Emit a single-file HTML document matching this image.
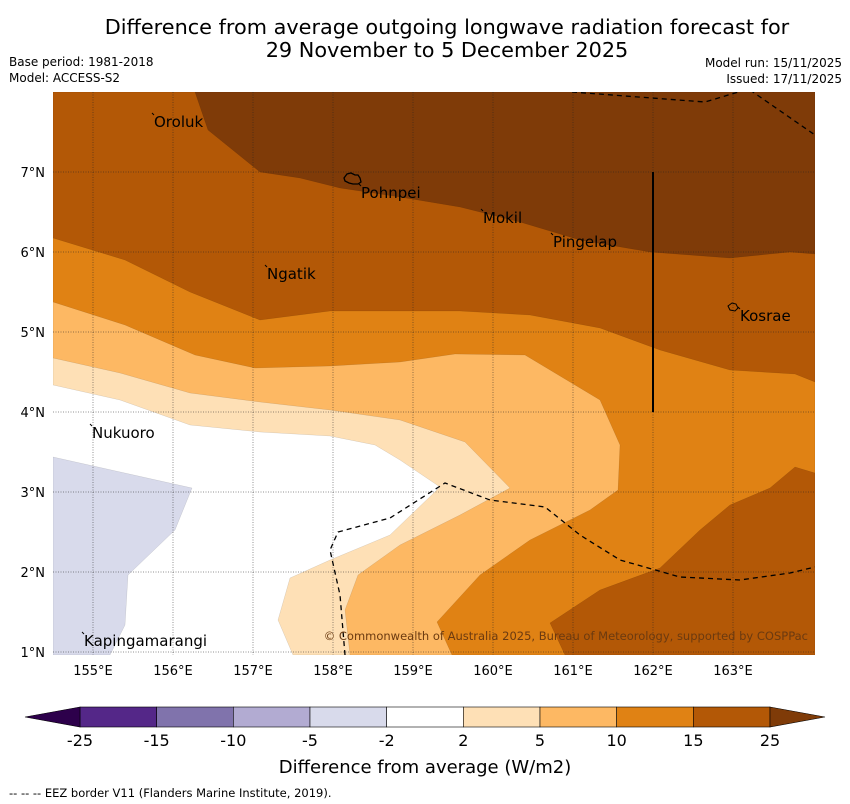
<!DOCTYPE html>
<html><head><meta charset="utf-8"><style>
body{margin:0;background:#fff;width:850px;height:804px;overflow:hidden;font-family:"DejaVu Sans","Liberation Sans",sans-serif}
svg{position:absolute;left:0;top:0}
</style></head><body>
<svg id="s" width="850" height="804">
<text x="447" y="34" font-size="20.8" text-anchor="middle">Difference from average outgoing longwave radiation forecast for</text>
<text x="447" y="57" font-size="20.8" text-anchor="middle">29 November to 5 December 2025</text>
<text x="9" y="66" font-size="12">Base period: 1981-2018</text>
<text x="9" y="82" font-size="12">Model: ACCESS-S2</text>
<text x="842" y="67" font-size="12" text-anchor="end">Model run: 15/11/2025</text>
<text x="842" y="83" font-size="12" text-anchor="end">Issued: 17/11/2025</text>
<g id="map"></g>
<g id="cbar"></g>
<text x="425" y="773" font-size="18" text-anchor="middle">Difference from average (W/m2)</text>
<text x="9" y="797" font-size="11.5">--  --  -- EEZ border V11 (Flanders Marine Institute, 2019).</text>
</svg>
<script>
const lonTicks=[155,156,157,158,159,160,161,162,163];
const latTicks=[1,2,3,4,5,6,7];
const levels=[-25,-15,-10,-5,-2,2,5,10,15,25];
const colors=["#542788","#8073ac","#b2abd2","#d8daeb","#ffffff","#fee0b6","#fdb863","#e08214","#b35806"];
const P=(x,y)=>[155+(x-93)/80,7-(y-172)/80];
const regionNeg=[[53,457],[192,488],[175,530],[128,575],[125,625],[110,655],[53,655]].map(p=>P(...p));
const region2=[[53,92],[53,385],[120,400],[190,425],[260,432],[330,436],[375,445],[400,460],[440,487],[390,535],[330,560],[290,578],[278,620],[293,655],[815,655],[815,92]].map(p=>P(...p));
const region5=[[53,92],[53,358],[120,373],[190,393],[260,402],[330,410],[400,420],[465,442],[510,488],[460,515],[400,545],[358,575],[345,610],[350,655],[815,655],[815,92]].map(p=>P(...p));
const region10=[[53,92],[53,302],[125,325],[195,355],[255,368],[330,366],[400,362],[455,354],[525,355],[600,400],[620,445],[618,490],[590,510],[530,540],[480,575],[437,622],[452,655],[815,655],[815,92]].map(p=>P(...p));
const region15a=[[53,92],[53,238],[125,260],[190,292],[260,320],[330,311],[460,311],[530,315],[600,328],[660,350],[730,370],[795,374],[815,382],[815,92]].map(p=>P(...p));
const region15b=[[550,623],[600,590],[660,568],[700,530],[730,505],[770,488],[795,467],[815,473],[815,655],[565,655]].map(p=>P(...p));
const region25=[[195,92],[208,130],[260,172],[300,178],[340,188],[400,197],[460,207],[520,222],[580,240],[650,252],[730,258],[790,252],[815,254],[815,92]].map(p=>P(...p));
const eez1=[[572,92],[705,102],[745,90]].map(p=>P(...p));
const eez2=[[750,90],[815,135]].map(p=>P(...p));
const eez3=[[345,655],[340,595],[330,550],[338,532],[390,518],[445,483],[490,500],[545,507],[580,535],[620,560],[680,577],[740,580],[790,573],[815,567]].map(p=>P(...p));
const places=[["Oroluk",155.7625,7.5625],["Pohnpei",158.35,6.675],["Mokil",159.875,6.3625],["Pingelap",160.75,6.0625],["Ngatik",157.175,5.6625],["Kosrae",163.0875,5.1375],["Nukuoro",154.9875,3.675],["Kapingamarangi",154.8875,1.075]];
const X=l=>93+(l-155)*80, Y=t=>172-(t-7)*80;
const NS='http://www.w3.org/2000/svg';
const map=document.getElementById('map');
function el(t,a,p){const e=document.createElementNS(NS,t);for(const k in a)e.setAttribute(k,a[k]);(p||map).appendChild(e);return e;}
const d=pts=>'M'+pts.map(p=>X(p[0]).toFixed(1)+','+Y(p[1]).toFixed(1)).join('L');
const cp=el('clipPath',{id:'cp'});el('rect',{x:53,y:92,width:762,height:563},cp);
const g=el('g',{'clip-path':'url(#cp)'});
const bg=el('rect',{x:53,y:92,width:762,height:563,fill:'#fff'},g);


[[regionNeg,colors[3],'region-neg'],[region2,colors[5],'region-2-5'],[region5,colors[6],'region-5-10'],[region10,colors[7],'region-10-15'],[region15a,colors[8],'region-15-25-north'],[region15b,colors[8],'region-15-25-south'],[region25,'#7f3b08','region-over-25']].forEach(r=>{
 const p=el('path',{d:d(r[0])+'Z',fill:r[1],stroke:'rgba(0,0,0,0.15)','stroke-width':0.5},g);
 
 
});
lonTicks.forEach(l=>{const ln=el('line',{x1:X(l),x2:X(l),y1:92,y2:655,stroke:'#222','stroke-width':0.5,'stroke-dasharray':'1,1.5'},g);
 
 const t=el('text',{x:X(l),y:675,'font-size':13,'text-anchor':'middle'});t.textContent=l+'°E';
 });
latTicks.forEach(l=>{const ln=el('line',{x1:53,x2:815,y1:Y(l),y2:Y(l),stroke:'#222','stroke-width':0.5,'stroke-dasharray':'1,1.5'},g);
 
 const t=el('text',{x:45,y:Y(l)+5,'font-size':13,'text-anchor':'end'});t.textContent=l+'°N';
 });
[eez1,eez2,eez3].forEach(e=>{const p=el('path',{d:d(e),fill:'none',stroke:'#000','stroke-width':1.3,'stroke-dasharray':'5,4'},g);
 });
const vl=el('line',{x1:X(162),x2:X(162),y1:Y(7),y2:Y(4),stroke:'#000','stroke-width':2},g);

const isl=el('path',{d:'M344,178 l3,-4 4,-1 4,2 3,0 2,3 1,4 -3,2 -5,0 -4,-1 -4,-2z',fill:'none',stroke:'#000','stroke-width':1.3},g);

const ks=el('path',{d:'M728,306 l4,-3 4,1 2,4 -3,3 -5,-1z',fill:'none',stroke:'#000','stroke-width':1},g);

places.forEach(p=>{const t=el('text',{x:X(p[1]),y:Y(p[2]),'font-size':15},g);t.textContent=p[0];
 
 const m=el('line',{x1:X(p[1])-2,y1:Y(p[2])-14,x2:X(p[1]),y2:Y(p[2])-12,stroke:'#000','stroke-width':1},g);
 });
const cr=el('text',{x:808,y:640,'font-size':11.5,'text-anchor':'end',fill:'#6b3a10'},g);
cr.textContent='© Commonwealth of Australia 2025, Bureau of Meteorology, supported by COSPPac';

const cb=document.getElementById('cbar');
const CX=i=>80+i*690/9;
colors.forEach((c,i)=>{const r=el('rect',{x:CX(i),y:707,width:690/9,height:20,fill:c,stroke:'#000','stroke-width':0.6},cb);
 });
const tl=el('path',{d:'M80,707 L25,717 L80,727Z',fill:'#2d004b',stroke:'#000','stroke-width':0.6},cb);

const tr=el('path',{d:'M770,707 L825,717 L770,727Z',fill:'#7f3b08',stroke:'#000','stroke-width':0.6},cb);

levels.forEach((v,i)=>{const t=el('text',{x:CX(i),y:746,'font-size':16,'text-anchor':'middle'},cb);t.textContent=v;
 });
</script>
</body></html>
